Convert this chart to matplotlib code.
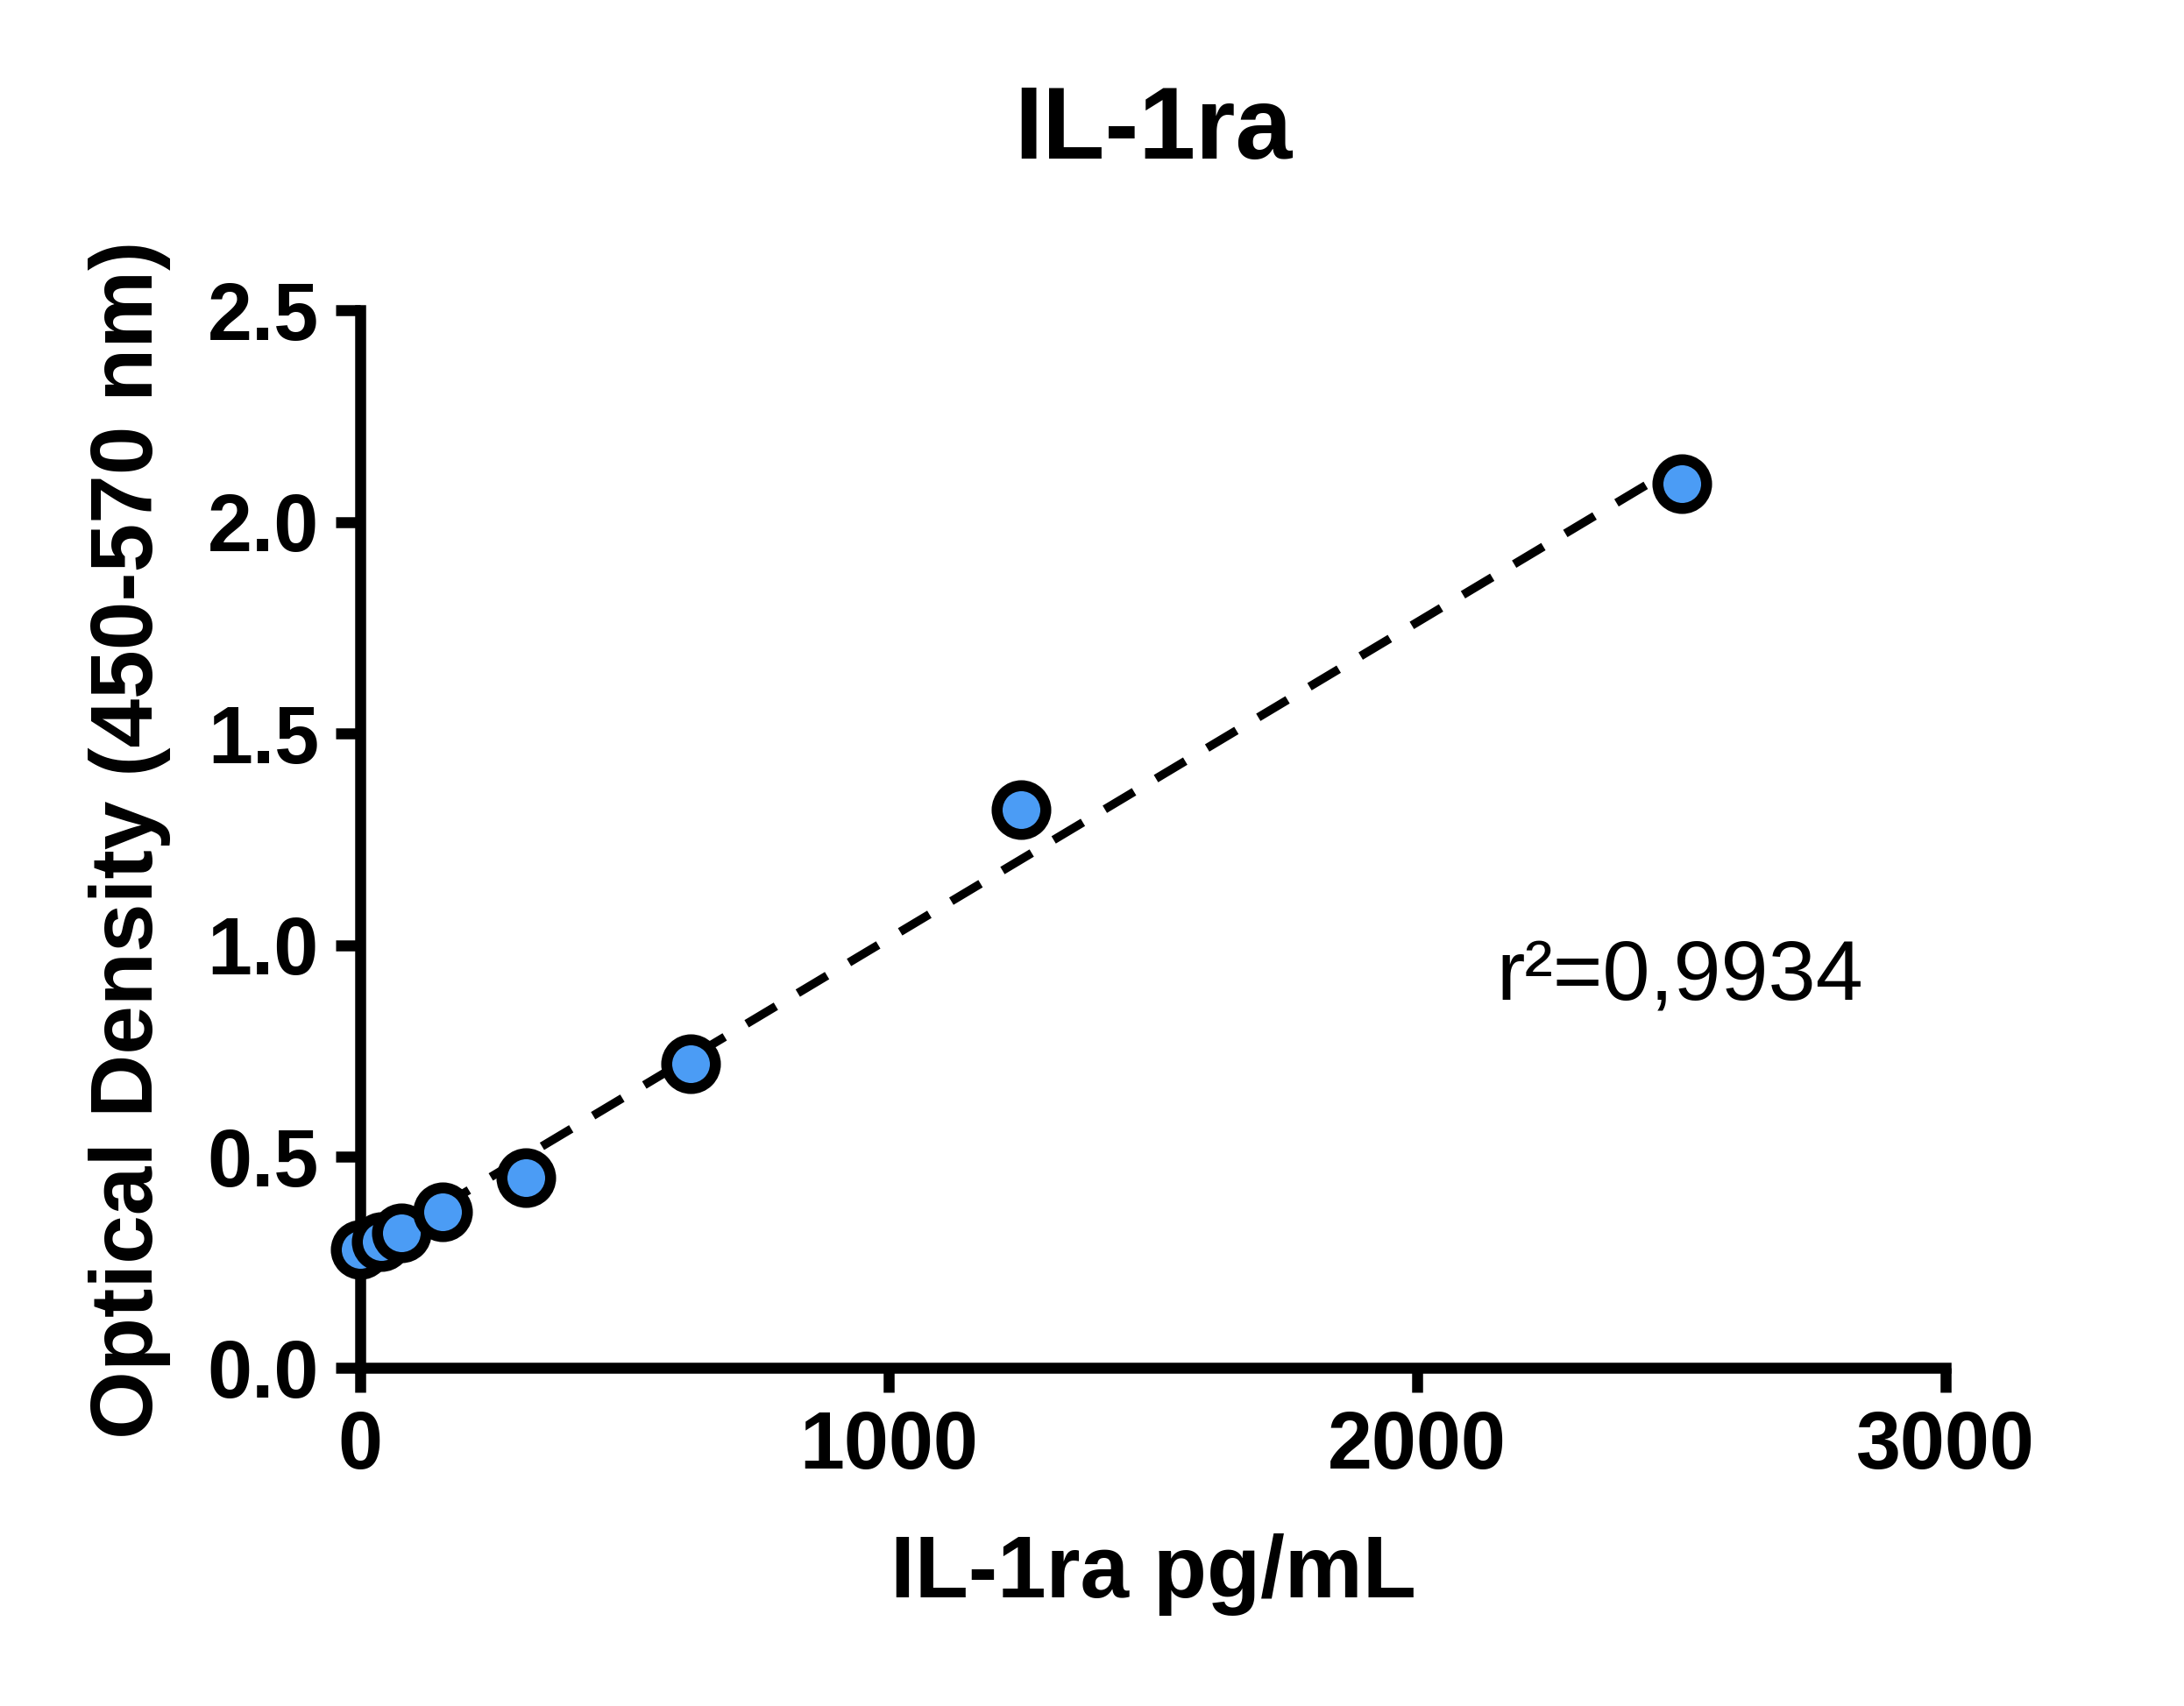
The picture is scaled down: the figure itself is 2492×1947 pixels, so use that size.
import matplotlib
matplotlib.use("Agg")
import matplotlib.pyplot as plt
import numpy as np

plt.rcParams['font.family'] = ['Liberation Sans', 'DejaVu Sans']

conc = [0, 39, 78, 156, 312.5, 625, 1250, 2500]
od = [0.28, 0.30, 0.32, 0.37, 0.45, 0.72, 1.32, 2.09]
xticks = [0, 1000, 2000, 3000]
yticks = [0.0, 0.5, 1.0, 1.5, 2.0, 2.5]

fig = plt.figure(figsize=(24.92, 19.47), dpi=100)
ax = fig.add_axes([0.165, 0.198, 0.726, 0.62])

m, b = np.polyfit(conc, od, 1)
xf = np.array([150, 2500])
ax.plot(xf, m * xf + b, ls=(0, (4, 3)), color='black', lw=7, zorder=2)
ax.plot(conc, od, 'o', ms=40, mfc='#4b9cf5', mec='black', mew=9, clip_on=False, zorder=3)

ax.set_xlim(0, 3000)
ax.set_ylim(0, 2.5)
ax.set_xticks(xticks)
ax.set_yticks(yticks)
ax.set_yticklabels([f"{v:.1f}" for v in yticks])
for s in ['top', 'right']:
    ax.spines[s].set_visible(False)
for s in ['left', 'bottom']:
    ax.spines[s].set_linewidth(9)
ax.tick_params(width=9, length=20, labelsize=66, pad=14)
for lab in ax.get_xticklabels() + ax.get_yticklabels():
    lab.set_fontweight('bold')
ax.set_xlabel('IL-1ra pg/mL', fontsize=72, fontweight='bold', labelpad=40)
ax.set_ylabel('Optical Density (450-570 nm)', fontsize=72, fontweight='bold', labelpad=30)
ax.set_title('IL-1ra', fontsize=84, fontweight='bold', pad=125)
ax.text(2150, 0.83, 'r²=0,9934', fontsize=70, ha='left', va='bottom')

fig.savefig('out.png', dpi=100)
